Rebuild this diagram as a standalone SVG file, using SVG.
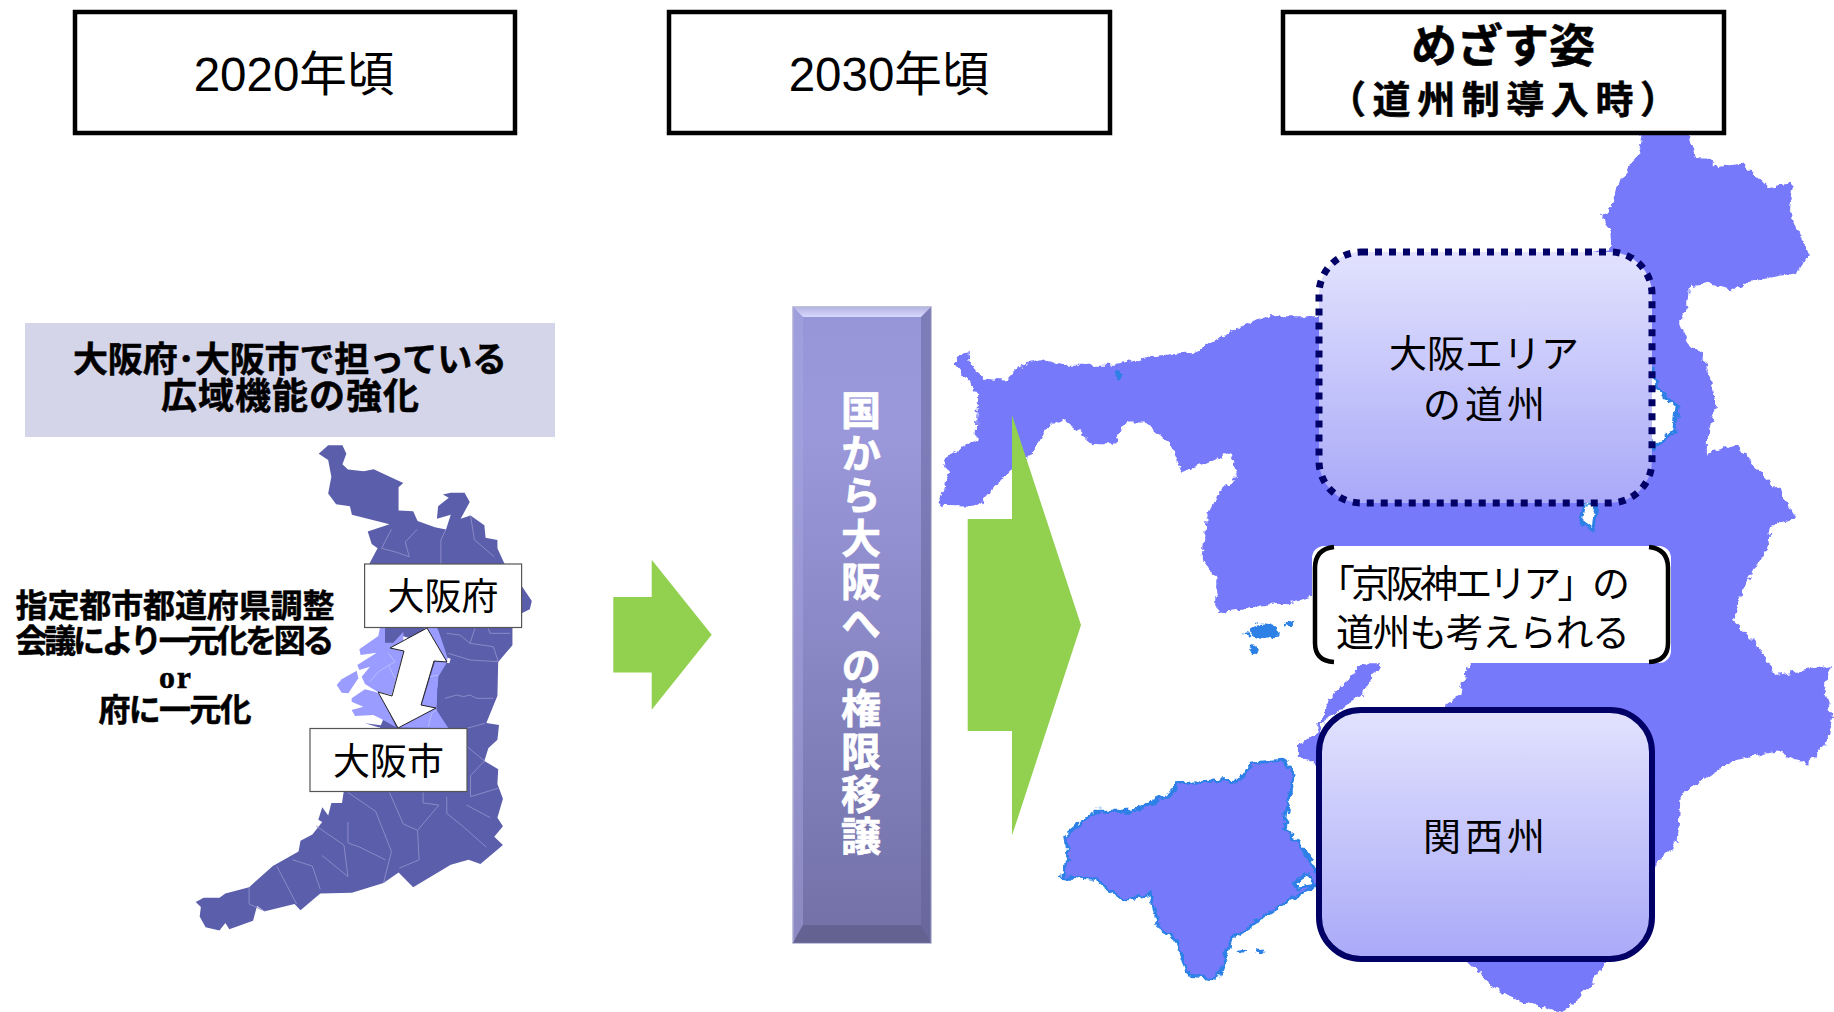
<svg xmlns="http://www.w3.org/2000/svg" width="1834" height="1012" viewBox="0 0 1834 1012">
<style>
text{font-family:"Liberation Sans","Noto Sans CJK JP",sans-serif;fill:#000;text-anchor:middle}
.hd{fill:#fff;stroke:#000;stroke-width:4.5}
.h{font-size:47.500px}
.b{font-weight:700;stroke:#000;stroke-width:.5}
.lb{font-size:37px}
.tag{fill:#fff;stroke:#555;stroke-width:1.2}
.rt{font-size:38px}
.st{text-anchor:start}
.arrow{fill:#92D050}
.kmap{fill:#7679FA}
.edge{stroke:#2C80E6;stroke-width:3;vector-effect:non-scaling-stroke}
.ln{fill:none;stroke:#8A8AC8;stroke-width:1;vector-effect:non-scaling-stroke}
.cl{fill:none;stroke:#B9BBFF;stroke-width:1;vector-effect:non-scaling-stroke}
.isl{fill:#2C80E6}
.lt{fill:#9A9CFF}
.dk{fill:#5B5EAB}
</style>
<defs>
<linearGradient id="bar" x1="0" y1="0" x2="0" y2="1"><stop offset="0" stop-color="#9596D8"/><stop offset=".2" stop-color="#9A98DA"/><stop offset="1" stop-color="#7270A6"/></linearGradient>
<linearGradient id="bartop" x1="0" y1="0" x2="0" y2="1"><stop offset="0" stop-color="#B4B4E0"/><stop offset="1" stop-color="#D8D8FF"/></linearGradient>
<linearGradient id="box" x1="0" y1="0" x2="0" y2="1"><stop offset="0" stop-color="#E2E2FE"/><stop offset="1" stop-color="#A9A9F8"/></linearGradient>
<filter id="rough" x="-5%" y="-5%" width="110%" height="110%" color-interpolation-filters="sRGB"><feTurbulence type="fractalNoise" baseFrequency=".07" numOctaves="3" seed="4" result="n"/><feDisplacementMap in="SourceGraphic" in2="n" scale="16" xChannelSelector="R" yChannelSelector="G"/><feGaussianBlur stdDeviation=".7"/></filter>
</defs>

<g id="kansai-map" transform="translate(920,120) scale(.5829,.5689)" filter="url(#rough)">
<path class="kmap" d="M60 415L85 408L88 435L110 455L145 458L170 432L210 420L250 430L330 430L400 415L470 408L520 380L590 345L680 345L1187 225L1184 193L1170 170L1192 144L1201 105L1232 58L1239 22L1318 22L1330 65L1355 67L1369 83L1412 76L1453 118L1496 111L1489 158L1506 190L1523 234L1506 269L1429 281L1393 299L1355 287L1321 290L1318 322L1304 357L1321 399L1343 410L1355 452L1367 497L1350 557L1350 585L1402 571L1440 620L1475 650L1503 700L1460 715L1450 760L1410 830L1395 880L1430 915L1470 975L1530 965L1565 958L1550 1000L1565 1040L1555 1100L1520 1130L1470 1110L1400 1125L1340 1160L1305 1185L1300 1270L1260 1310L1250 1400L1180 1480L1130 1545L1100 1568L1040 1550L990 1530L940 1480L700 1200L900 1030L925 1010L945 955L672 840L560 860L510 865L510 810L485 770L490 700L510 660L545 625L535 585L450 620L430 570L385 530L355 530L330 570L300 570L250 530L225 530L190 590L150 620L105 672L95 680L32 678L50 620L40 595L97 560L100 480L60 430Z"/>
<path fill="#fff" d="M700 1200L900 1030L800 1000L690 1060L680 1140Z"/>
<path class="kmap" d="M790 955L760 955L700 1020L680 1075L650 1100L650 1120L680 1130L690 1060L760 1010Z"/>
<path class="isl" d="M335 440h8v20h-8z"/>
<path fill="#fff" class="edge" d="M1256 433L1266 474L1299 503L1295 544L1256 580L1240 500Z"/>
<path fill="#fff" class="edge" d="M1140 670L1160 670L1155 720L1135 705Z"/>
<path class="kmap edge" d="M250 1260L300 1215L365 1215L430 1185L440 1165L550 1160L570 1130L625 1125L640 1150L625 1240L670 1300L690 1340L620 1380L535 1440L510 1510L460 1505L440 1440L410 1420L395 1360L350 1370L300 1335L245 1330L255 1300Z"/>
<path fill="#fff" class="edge" d="M640 1340L665 1325L678 1345L650 1350Z"/>
<ellipse class="isl" cx="590" cy="898" rx="24" ry="13"/><ellipse class="isl" cx="633" cy="886" rx="7" ry="4"/><ellipse class="isl" cx="572" cy="932" rx="8" ry="7"/><ellipse class="isl" cx="560" cy="905" rx="5" ry="3"/>
<ellipse class="isl" cx="555" cy="1462" rx="10" ry="3"/><ellipse class="isl" cx="582" cy="1462" rx="6" ry="4"/>
</g>

<g id="osaka-map">
<g transform="translate(0,300) scale(.3954,.4209)">
<path class="dk" d="M806 365L830 345L866 345L876 365L866 390L880 403L920 407L945 402L1020 435L1008 445L1008 500L1045 502L1056 525L1100 540L1128 545L1140 510L1105 520L1108 490L1135 470L1120 462L1140 458L1175 458L1188 480L1165 520L1190 512L1225 535L1228 565L1258 570L1258 590L1275 625L1320 680L1345 715L1340 735L1318 745L1296 780L1296 820L1260 860L1258 940L1230 1005L1262 1010L1258 1045L1235 1065L1225 1095L1260 1115L1258 1150L1272 1185L1258 1230L1272 1250L1250 1275L1272 1295L1215 1340L1185 1330L1140 1342L1045 1395L1008 1360L970 1385L890 1408L810 1410L760 1450L745 1435L670 1452L650 1440L640 1475L580 1495L570 1480L555 1498L520 1490L505 1465L508 1442L495 1430L515 1420L555 1420L570 1410L630 1395L690 1345L755 1310L760 1285L790 1270L815 1240L805 1235L815 1205L830 1225L838 1195L865 1195L880 1100L960 1018L1050 808L961 781L935 625L955 590L940 580L930 550L985 533L890 510L885 490L850 485L830 460L838 420L830 380Z"/>
<path class="ln" d="M990 545L965 590L1005 600L1035 610L1025 575L1055 545M1128 545L1115 570V630M1190 512L1200 570L1250 610M880 1170L950 1215L990 1310L970 1385M985 1170L1020 1245L1056 1260L1060 1330L1010 1350M1070 1170V1195L1110 1200L1056 1260M1130 1180V1220L1170 1250L1230 1300M1180 1200L1240 1230M880 1240L880 1290L910 1300L975 1330M800 1250L870 1295L880 1370M815 1320L880 1370M700 1345L750 1435M740 1330L790 1345L810 1400M630 1395V1435L670 1452M1180 1020V1060L1225 1095L1190 1130V1180L1260 1160"/>
</g>
<g transform="translate(320,610) scale(.33333)">
<path class="lt" d="M180 52L175 78L118 118L122 135L170 128L112 165L118 180L150 170L125 200L135 222L172 245L215 255L250 130L250 52Z"/>
<path class="lt" d="M50 225L65 208L110 182L115 205L85 250L65 248Z"/>
<path class="lt" d="M95 265L135 238L165 245L175 250L200 290L228 352L180 325L160 315L105 318L95 300L130 290L95 275Z"/>
<path class="lt" d="M310 52L352 52L385 150L345 155L305 285L345 295L235 352L385 354L350 300L352 235L385 165Z"/>
<path class="lt" d="M235 352L345 295L350 300L385 354Z"/>
<path class="dk" d="M350 52L390 115L385 150L355 200L350 300L385 354L445 354L445 52Z"/>
<path class="dk" d="M195 52V98H220L255 60L270 85L300 52ZM135 340L230 352H175Z"/>
<path class="cl" d="M205 130L225 155L175 185L150 215M205 165L225 205M330 200L355 195M325 350L335 310L350 300"/>
<path class="ln" d="M380 70L420 75L450 100L520 110L535 155L450 150L385 130M450 100L465 55M505 55L510 70L570 70M375 265L410 255L430 260L450 255L470 265L520 265M440 355L495 340"/>
<path fill="#fff" d="M383 143L392 146L388 160L380 158Z"/>
</g>
</g>

<g id="connectors">
<polygon id="arrow-1" class="arrow" points="613.3,597 651.7,597 651.7,559.8 711.7,634.8 651.7,709.8 651.7,672.5 613.3,672.5"/>
<polygon id="arrow-2" class="arrow" points="967.7,519 1012,519 1012,415 1081,625 1012,835.6 1012,731 967.7,731"/>
<polygon id="double-arrow" fill="#fff" stroke="#222" stroke-width="1" points="427,628 447,662 434,661 421,705 436,708 398,728 378,692 392,696 404,651 390,648"/>
</g>

<g id="head-2020"><rect class="hd" x="75" y="12" width="440" height="121"/><text class="h" x="294" y="91">2020年頃</text></g>
<g id="head-2030"><rect class="hd" x="669" y="12" width="441" height="121"/><text class="h" x="889" y="91">2030年頃</text></g>
<g id="head-goal"><rect class="hd" x="1283" y="12" width="441" height="121"/><text class="b" x="1503" y="62" font-size="46">めざす姿</text><text class="b st" x="1328" y="113" font-size="38" textLength="350">（道州制導入時）</text></g>

<g id="title"><rect x="25" y="323" width="530" height="114" fill="#D5D5EA"/><text class="b" x="290" y="372" font-size="35" textLength="434">大阪府･大阪市で担っている</text><text class="b" x="290" y="409" font-size="36" textLength="258">広域機能の強化</text></g>

<g id="note"><text class="b" x="175" y="617" font-size="32" textLength="319">指定都市都道府県調整</text><text class="b" x="175" y="652" font-size="32" textLength="319">会議により一元化を図る</text><text class="b" x="175" y="688" font-size="32" textLength="32" style="font-family:'Liberation Serif','Noto Sans CJK JP',serif">or</text><text class="b" x="175" y="721" font-size="32" textLength="153">府に一元化</text></g>

<g id="label-fu"><rect class="tag" x="364.6" y="564" width="157" height="63.5"/><text class="lb" x="443" y="610" textLength="111">大阪府</text></g>
<g id="label-shi"><rect class="tag" x="310" y="728.5" width="157" height="63"/><text class="lb" x="388.500" y="775" textLength="111">大阪市</text></g>

<g id="transfer"><rect x="793" y="307" width="138" height="636" fill="url(#bar)" stroke="#AEAECF" stroke-width="1.500"/>
<path d="M793 307H931L921 317H803Z" fill="url(#bartop)"/><path d="M793 307L803 317V925L793 943Z" fill="#A9A9E2" opacity=".45"/><path d="M931 307L921 317V925L931 943Z" fill="#5E5E92" opacity=".45"/><path d="M793 943L803 925H921L931 943Z" fill="#605F8C" opacity=".8"/>
<text x="858" y="390" font-size="40" style="fill:#fff;stroke:#fff;stroke-width:.7;font-weight:700;writing-mode:vertical-rl;text-anchor:start;letter-spacing:2.6px">国から大阪への権限移譲</text></g>

<g id="osaka-area"><rect x="1319" y="252" width="333" height="251" rx="42" fill="url(#box)" stroke="#000066" stroke-width="7" stroke-dasharray="7 7"/><text class="rt" x="1484" y="367" textLength="190">大阪エリア</text><text class="rt" x="1484" y="418" textLength="122">の道州</text></g>
<g id="keihanshin"><rect x="1312" y="546" width="359" height="117" rx="12" fill="#fff"/><path d="M1334 547Q1315 549 1315 568V643Q1315 661 1334 662M1649 547Q1668 549 1668 568V643Q1668 661 1649 662" fill="none" stroke="#000" stroke-width="4.500"/><text class="rt st" x="1317" y="597" textLength="313">「京阪神エリア」の</text><text class="rt" x="1483" y="646" textLength="294">道州も考えられる</text></g>
<g id="kansai-state"><rect x="1319" y="710" width="333" height="249" rx="42" fill="url(#box)" stroke="#000066" stroke-width="6"/><text class="rt" x="1484" y="850" textLength="122">関西州</text></g>
</svg>
